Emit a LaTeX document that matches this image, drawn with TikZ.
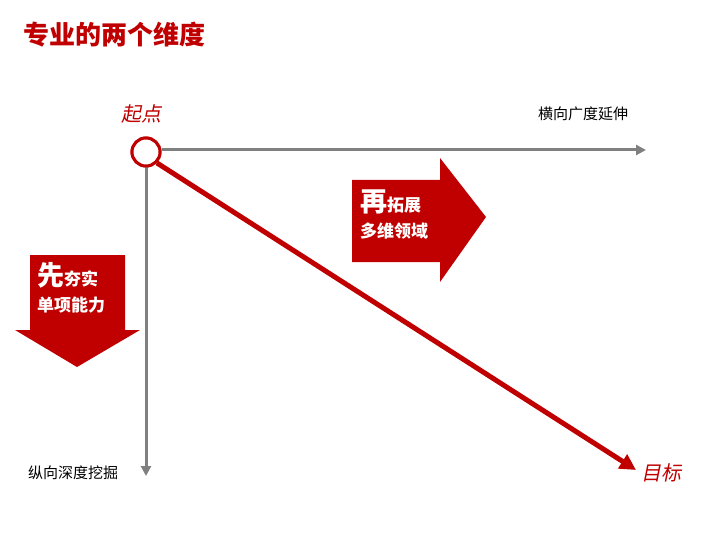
\documentclass[tikz,border=0pt]{standalone}
\usepackage{fontspec}
\setmainfont{Noto Sans CJK SC}
\newfontfamily\cjkit[FakeSlant=0.2]{Noto Sans CJK SC}
\usetikzlibrary{arrows.meta}
\definecolor{myred}{RGB}{192,0,0}
\definecolor{mygray}{RGB}{128,128,128}
\tikzset{
 axis/.style={draw=mygray,line width=3pt,-{Triangle[length=10pt,width=10pt]}},
 lbl/.style={font=\fontsize{15}{17}\selectfont,text=black},
 redlbl/.style={font=\cjkit\fontsize{20}{22}\selectfont,text=myred},
 boxtxt/.style={text=white,font=\bfseries\fontsize{17}{26}\selectfont,align=left,inner sep=0}
}
\begin{document}
\begin{tikzpicture}[x=1pt,y=-1pt]
\useasboundingbox[fill=white] (0,0) rectangle (720,540);
\node[anchor=west,text=myred,font=\bfseries\fontsize{26}{30}\selectfont] (title) at (20,35) {专业的两个维度};
\fill[myred] (352,180) -- (440,180) -- (440,158) -- (486,217) -- (440,282) -- (440,262) -- (352,262) -- cycle;
\fill[myred] (30,255) -- (125,255) -- (125,330) -- (140,330) -- (77,367) -- (15,330) -- (30,330) -- cycle;
\node[boxtxt,anchor=north west] (t1) at (360,190) {{\fontsize{27}{27}\selectfont 再}拓展\\多维领域};
\node[boxtxt,anchor=north west] (t2) at (37,262) {{\fontsize{27}{27}\selectfont 先}夯实\\单项能力};
\node[circle,draw=myred,line width=3pt,fill=white,minimum size=28pt,inner sep=0] (s) at (146,152) {};
\coordinate (hend) at (646,150);
\coordinate (vend) at (146,476);
\coordinate (goal) at (636,470);
\draw[axis] (s.east |- hend) -- (hend);
\draw[axis] (s.south) -- (vend);
\draw[draw=myred,line width=5pt,-{Triangle[length=16pt,width=16pt]}] (s.south east) -- (goal);
\node[circle,draw=myred,line width=3pt,fill=white,minimum size=28pt,inner sep=0] at (146,152) {};
\node[redlbl] (qd) at (141,114) {起点};
\node[redlbl] (mb) at (661,473) {目标};
\node[lbl] (h) at (583,114) {横向广度延伸};
\node[lbl] (v) at (73,473) {纵向深度挖掘};
\end{tikzpicture}
\end{document}
